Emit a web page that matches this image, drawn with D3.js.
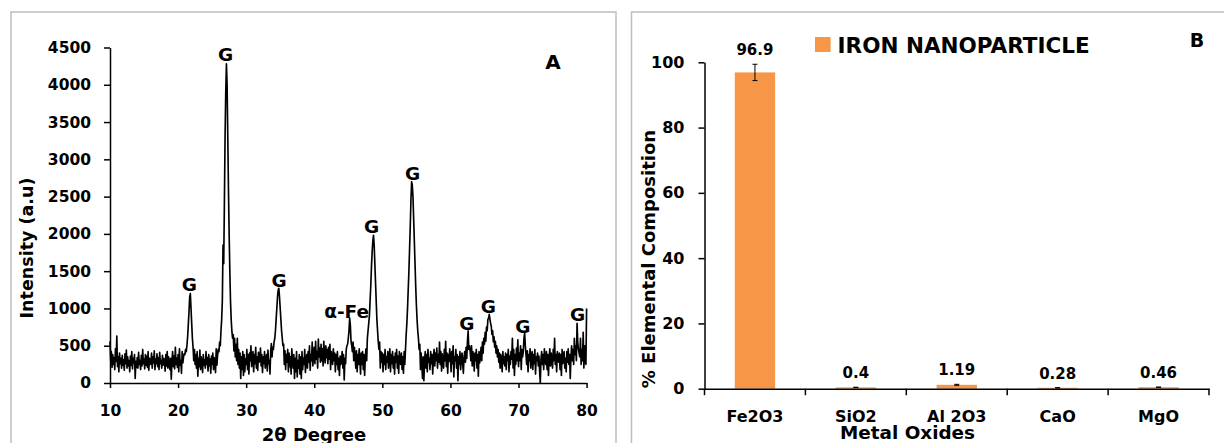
<!DOCTYPE html>
<html>
<head>
<meta charset="utf-8">
<script src="https://cdn.jsdelivr.net/npm/d3@7"></script>
<style>
  body { margin: 0; background: #fff; }
  svg { display: block; }
  text { font-family: "DejaVu Sans", sans-serif; font-weight: bold; fill: #000; }
</style>
</head>
<body>
<svg id="chart" width="1224" height="443"></svg>
<script>
// ---- Panel A: XRD scan (2θ from 10° in 0.1° steps) ----
const scanStart = 10;
const scanStep = 0.1;
const intensity = [
  560,300,420,210,380,250,340,180,460,290,   // 10°
  630,220,350,150,400,260,330,200,370,240,   // 11°
  310,170,390,260,440,200,350,230,300,150,   // 12°
  360,240,420,190,330,270,380,60,290,210,    // 13°
  340,200,410,250,300,180,370,230,450,260,   // 14°
  320,190,380,240,360,210,420,170,330,280,   // 15°
  250,400,200,350,270,430,180,320,260,390,   // 16°
  220,340,180,410,260,300,200,370,240,330,   // 17°
  290,160,380,230,420,200,350,270,180,330,   // 18°
  50,300,420,220,360,190,480,250,330,210,    // 19°
  380,150,460,240,300,130,420,270,350,390,   // 20°
  380,450,420,500,620,780,950,1150,1200,1000,// 21°
  800,600,480,300,450,250,380,200,420,90,    // 22°
  330,220,440,180,350,270,140,380,240,310,   // 23°
  200,420,250,340,160,380,230,320,130,360,   // 24°
  250,400,180,340,280,140,460,240,370,450,   // 25°
  420,550,500,700,850,1100,1850,1600,2400,3300, // 26°
  3900,4280,4000,3300,2600,2000,1500,1100,850,700, // 27°
  600,650,430,600,350,520,300,600,250,450,   // 28°
  200,400,60,350,180,420,100,380,150,320,    // 29°
  250,450,180,380,120,400,300,500,220,350,   // 30°
  420,150,380,260,480,200,350,170,410,280,   // 31°
  300,470,230,380,140,350,260,420,200,330,   // 32°
  380,160,440,260,300,120,420,530,350,480,   // 33°
  450,550,600,700,850,1000,1150,1250,1270,1150, // 34°
  1000,850,700,600,500,520,250,430,180,380,  // 35°
  280,450,150,400,220,350,120,460,300,200,   // 36°
  380,60,330,150,420,80,300,200,380,120,     // 37°
  350,60,420,180,330,250,450,140,300,380,    // 38°
  200,420,280,500,170,380,300,550,230,400,   // 39°
  480,260,560,320,420,200,590,350,470,280,   // 40°
  520,300,460,230,560,380,270,500,340,450,   // 41°
  260,480,320,520,180,420,350,250,460,300,   // 42°
  400,150,380,250,420,180,330,100,360,250,   // 43°
  300,420,200,380,40,330,260,450,500,520,    // 44°
  600,700,870,780,560,500,420,550,300,480,   // 45°
  350,200,430,150,380,250,460,300,120,400,   // 46°
  250,420,180,380,100,350,460,300,600,700,   // 47°
  800,900,1100,1300,1550,1750,1900,1980,1850,1600, // 48°
  1350,1100,850,700,550,450,550,200,420,280, // 49°
  400,150,380,250,450,180,350,280,420,200,   // 50°
  330,460,150,380,260,420,200,350,120,400,   // 51°
  280,450,200,360,130,420,300,250,400,180,   // 52°
  350,130,420,250,450,650,800,1000,1250,1500, // 53°
  1800,2100,2450,2700,2650,2500,2200,1900,1600,1300, // 54°
  1050,850,700,600,450,520,180,400,250,60,   // 55°
  350,30,300,420,200,380,150,450,280,330,    // 56°
  180,420,260,380,120,350,450,230,400,300,   // 57°
  470,200,380,280,550,250,420,160,390,300,   // 58°
  200,450,300,560,220,400,130,380,290,460,   // 59°
  330,150,420,260,500,80,350,300,450,200,    // 60°
  380,30,350,250,420,180,320,400,260,130,    // 61°
  350,420,280,480,330,560,700,450,500,420,   // 62°
  300,500,230,420,350,160,400,300,450,200,   // 63°
  380,90,420,270,350,480,300,550,400,600,    // 64°
  520,680,560,750,700,850,870,920,860,800,   // 65°
  760,650,700,550,620,480,560,400,500,350,   // 66°
  450,280,400,200,380,300,150,420,260,350,   // 67°
  230,400,180,380,300,450,150,360,250,420,   // 68°
  320,600,200,450,100,380,250,470,300,580,   // 69°
  220,400,300,500,180,450,350,420,600,670,   // 70°
  500,380,250,430,150,380,300,460,200,350,   // 71°
  420,180,380,260,450,120,350,300,400,230,   // 72°
  360,150,0,320,420,250,380,180,460,300,     // 73°
  250,420,180,380,100,350,460,230,400,300,   // 74°
  200,450,300,600,250,380,150,420,320,280,   // 75°
  400,180,380,100,450,260,350,420,200,330,   // 76°
  150,420,280,460,250,380,60,350,500,300,    // 77°
  450,250,600,380,500,300,800,550,450,400,   // 78°
  350,600,250,450,300,680,200,500,300,250,   // 79°
  1000                                       // 80°
];
const xTicksA = [10, 20, 30, 40, 50, 60, 70, 80];
const yTicksA = [0, 500, 1000, 1500, 2000, 2500, 3000, 3500, 4000, 4500];

// Phase labels: text, 2θ position, and the intensity level of the label baseline
const peakText  = ["G", "G", "G", "α-Fe", "G", "G", "G", "G", "G", "G"];
const peakTheta = [21.65, 26.98, 34.82, 44.75, 48.42, 54.44, 62.4, 65.56, 70.65, 78.69];
const peakLevel = [1240, 4325, 1294, 872, 2018, 2723, 711, 935, 667, 837];

// ---- Panel B: oxide composition ----
const oxides = ["Fe2O3", "SiO2", "Al 2O3", "CaO", "MgO"];
const composition = [96.9, 0.4, 1.19, 0.28, 0.46];
const compositionErr = [2.5, 0.05, 0.15, 0.04, 0.05];
const yTicksB = [0, 20, 40, 60, 80, 100];
const seriesName = "IRON NANOPARTICLE";

const svg = d3.select("#chart");
svg.append("rect").attr("width", 1224).attr("height", 443).attr("fill", "#fff");

// panel frames
svg.append("rect").attr("x", 11).attr("y", 12).attr("width", 605).attr("height", 440)
  .attr("fill", "none").attr("stroke", "#bdbdbd").attr("stroke-width", 1.5);
svg.append("rect").attr("x", 631.5).attr("y", 12).attr("width", 600).attr("height", 440)
  .attr("fill", "none").attr("stroke", "#bdbdbd").attr("stroke-width", 1.5);

function styleAxis(g, size) {
  g.attr("font-size", size);
  g.selectAll("path.domain").attr("stroke", "#000").attr("stroke-width", 1.5);
  g.selectAll(".tick line").attr("stroke", "#000").attr("stroke-width", 1.5);
}

// ===== Panel A =====
const xA = d3.scaleLinear().domain([10, 80]).range([110, 586.6]);
const yA = d3.scaleLinear().domain([0, 4500]).range([383, 47.5]);

const gA = svg.append("g");

gA.append("path")
  .datum(intensity)
  .attr("fill", "none")
  .attr("stroke", "#000")
  .attr("stroke-width", 1.65)
  .attr("stroke-linejoin", "round")
  .attr("d", d3.line()
    .x((d, i) => xA(scanStart + i * scanStep))
    .y(d => yA(d)));

gA.append("g")
  .attr("transform", `translate(0,${yA(0)})`)
  .call(d3.axisBottom(xA).tickValues(xTicksA).tickFormat(d3.format("d"))
    .tickSize(5).tickSizeOuter(0).tickPadding(17))
  .call(g => styleAxis(g, 15.5));

gA.append("g")
  .attr("transform", `translate(${xA(10)},0)`)
  .call(d3.axisLeft(yA).tickValues(yTicksA).tickFormat(d3.format("d"))
    .tickSize(6).tickSizeOuter(0).tickPadding(13))
  .call(g => styleAxis(g, 15.5));

gA.selectAll("text.peak")
  .data(peakText)
  .join("text")
  .attr("class", "peak")
  .attr("x", (d, i) => xA(peakTheta[i]))
  .attr("y", (d, i) => yA(peakLevel[i]))
  .attr("text-anchor", "middle")
  .attr("font-size", 18.5)
  .text(d => d);

gA.append("text")
  .attr("x", 553).attr("y", 68.5)
  .attr("text-anchor", "middle").attr("font-size", 20)
  .text("A");

gA.append("text")
  .attr("x", 314).attr("y", 441)
  .attr("text-anchor", "middle").attr("font-size", 18)
  .text("2θ Degree");

gA.append("text")
  .attr("transform", "translate(33,248) rotate(-90)")
  .attr("text-anchor", "middle").attr("font-size", 17.5)
  .text("Intensity (a.u)");

// ===== Panel B =====
const xB = d3.scaleBand().domain(oxides).range([704.5, 1209])
  .paddingInner(0.6).paddingOuter(0.3);
const yB = d3.scaleLinear().domain([0, 100]).range([388.7, 62.3]);

const gB = svg.append("g");

gB.selectAll("rect.bar")
  .data(oxides)
  .join("rect")
  .attr("class", "bar")
  .attr("x", d => xB(d))
  .attr("width", xB.bandwidth())
  .attr("y", (d, i) => yB(composition[i]))
  .attr("height", (d, i) => yB(0) - yB(composition[i]))
  .attr("fill", "#F79646");

// error bars
const errG = gB.selectAll("g.err").data(oxides).join("g").attr("class", "err")
  .attr("stroke", "#000").attr("stroke-width", 1);
errG.append("line")
  .attr("x1", d => xB(d) + xB.bandwidth() / 2)
  .attr("x2", d => xB(d) + xB.bandwidth() / 2)
  .attr("y1", (d, i) => yB(composition[i] - compositionErr[i]))
  .attr("y2", (d, i) => yB(composition[i] + compositionErr[i]));
[-1, 1].forEach(s => {
  errG.append("line")
    .attr("x1", d => xB(d) + xB.bandwidth() / 2 - 2.5)
    .attr("x2", d => xB(d) + xB.bandwidth() / 2 + 2.5)
    .attr("y1", (d, i) => yB(composition[i] + s * compositionErr[i]))
    .attr("y2", (d, i) => yB(composition[i] + s * compositionErr[i]));
});

// value labels
gB.selectAll("text.val")
  .data(oxides)
  .join("text")
  .attr("class", "val")
  .attr("x", d => xB(d) + xB.bandwidth() / 2)
  .attr("y", (d, i) => yB(composition[i] + compositionErr[i]) - 9)
  .attr("text-anchor", "middle")
  .attr("font-size", 15)
  .text((d, i) => String(composition[i]));

// x axis: category labels centred, ticks on category boundaries
const xAxisB = gB.append("g")
  .attr("transform", `translate(0,${yB(0)})`)
  .call(d3.axisBottom(xB).tickSize(0).tickSizeOuter(0).tickPadding(21.5))
  .call(g => styleAxis(g, 16));
const boundaries = oxides.map(d => xB(d) - xB.step() * xB.paddingInner() / 2)
  .concat([xB.range()[1]]);
xAxisB.selectAll("line.bound")
  .data(boundaries)
  .join("line")
  .attr("class", "bound")
  .attr("x1", d => d).attr("x2", d => d)
  .attr("y1", 0).attr("y2", 6.5)
  .attr("stroke", "#000").attr("stroke-width", 1.5);

gB.append("g")
  .attr("transform", `translate(${xB.range()[0]},0)`)
  .call(d3.axisLeft(yB).tickValues(yTicksB).tickFormat(d3.format("d"))
    .tickSize(6).tickSizeOuter(0).tickPadding(14))
  .call(g => styleAxis(g, 16));

// legend
gB.append("rect")
  .attr("x", 815).attr("y", 37).attr("width", 15.6).attr("height", 15)
  .attr("fill", "#F79646");
gB.append("text")
  .attr("x", 837.6).attr("y", 52.5)
  .attr("font-size", 21.5)
  .text(seriesName);

gB.append("text")
  .attr("x", 1197).attr("y", 46.5)
  .attr("text-anchor", "middle").attr("font-size", 19)
  .text("B");

gB.append("text")
  .attr("x", 907.5).attr("y", 439)
  .attr("text-anchor", "middle").attr("font-size", 18.4)
  .text("Metal Oxides");

gB.append("text")
  .attr("transform", "translate(655,259) rotate(-90)")
  .attr("text-anchor", "middle").attr("font-size", 18)
  .text("% Elemental Composition");
</script>
</body>
</html>
